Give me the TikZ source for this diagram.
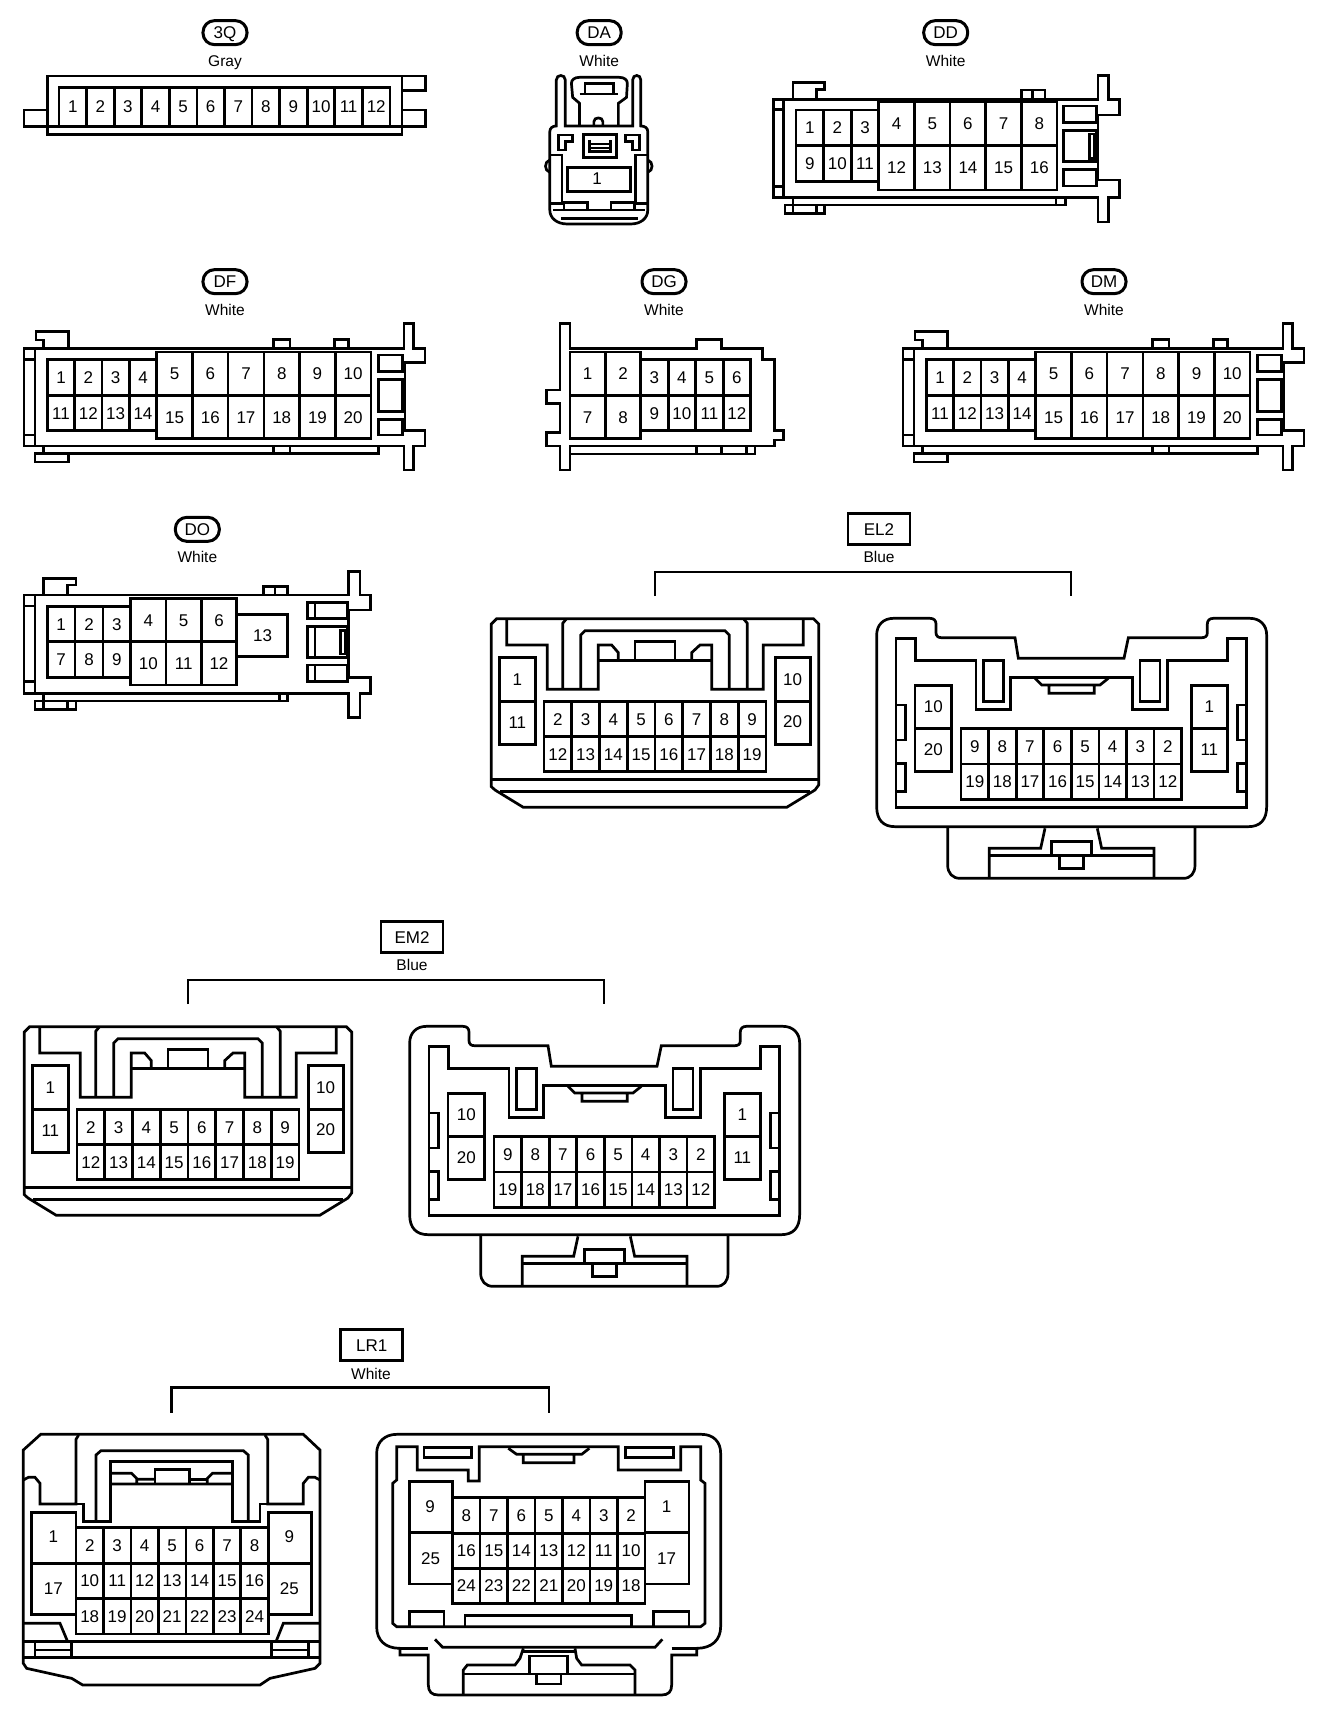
\documentclass[tikz,border=0pt]{standalone}
\usepackage{fontspec}
\setmainfont{Liberation Sans}
\tikzset{
  x=1pt,y=-1pt,
  ln/.style={line width=2.7pt,line join=miter,line cap=butt},
  zoomed/.style 2 args={shift={(#1,#2)},x=0.33333pt,y=-0.33333pt},
  zoomedwide/.style={shift={(#1,0)},x=0.40816pt,y=-0.33333pt},
  pinlabel/.style={inner sep=0pt,font=\fontsize{17}{17}\selectfont,text height=12pt,text depth=0pt},
  pill/.style={draw,yshift=-1pt,line width=3pt,rounded corners=11.5pt,minimum width=44pt,minimum height=24pt,inner sep=0pt,font=\fontsize{17}{17}\selectfont,text height=12pt,text depth=0pt},
  squarebox/.style={draw,line width=2.7pt,minimum width=62pt,minimum height=31pt,inner sep=0pt,font=\fontsize{17}{17}\selectfont,text height=12pt,text depth=0pt},
  colourtext/.style={yshift=-0.7pt,inner sep=0pt,font=\fontsize{15.5}{16}\selectfont,text height=11.5pt,text depth=0pt},
}
% prefix, x0, dx, y0, y1, labels
\newcommand{\cellrow}[6]{%
  \foreach \t [count=\i from 0] in {#6}{%
    \pgfmathsetmacro\xa{#2+\i*#3}%
    \pgfmathsetmacro\xb{\xa+#3}%
    \pgfmathsetmacro\xc{(\xa+\xb)/2}%
    \pgfmathsetmacro\yc{(#4+#5)/2}%
    \draw[ln] (\xa,#4) rectangle (\xb,#5);
    \node[pinlabel] (#1-\t) at (\xc,\yc) {\t};
  }}
% name, text, x, y(text), colour, ycolour
\newcommand{\pilltag}[6]{%
  \node[pill] (#1) at (#3,#4) {#2};
  \node[colourtext] (#1c) at (#3,#6) {#5};}
% DF / DM body
\newcommand{\dfbody}[2]{%
\begin{scope}[zoomed={#2}{260}]
  \pilltag{#1}{#1}{675}{62}{White}{148}
  \draw[ln] (1212,265) -- (72,265) -- (72,558) -- (1212,558) -- (1212,630) -- (1240,630) -- (1240,558) -- (1275,558) -- (1275,512) -- (1215,512) -- (1215,308) -- (1275,308) -- (1275,265) -- (1240,265) -- (1240,190) -- (1212,190) -- cycle;
  \draw[ln] (105,265) -- (105,558) (72,298) -- (105,298) (72,525) -- (105,525);
  \draw[ln] (130,265) -- (130,240) -- (108,240) -- (108,215) -- (205,215) -- (205,265);
  \draw[ln] (820,265) -- (820,238) -- (870,238) -- (870,265) (1003,265) -- (1003,238) -- (1045,238) -- (1045,265);
  \draw[ln] (130,558) -- (130,580) -- (105,580) -- (105,606) -- (205,606) -- (205,580);
  \draw[ln] (130,580) -- (1135,580) -- (1135,558) (820,558) -- (820,580) (870,558) -- (870,580);
  \draw[ln] (1135,285) rectangle (1208,335) (1135,358) rectangle (1208,455) (1135,478) rectangle (1208,525);
  \cellrow{#1}{142}{82}{298}{407}{1,2,3,4}
  \cellrow{#1}{142}{82}{407}{512}{11,12,13,14}
  \cellrow{#1}{470}{107.2}{276}{407}{5,6,7,8,9,10}
  \cellrow{#1}{470}{107.2}{407}{535}{15,16,17,18,19,20}
\end{scope}}
% EL2 / EM2 pair
\newcommand{\elpair}[4]{% name, colour, dx, dy
\begin{scope}[shift={(#3,#4)}]
  \node[squarebox] (#1) at (879,529) {#1};
  \node[colourtext] (#1c) at (879,556) {#2};
  \coordinate (#1L) at (655,596);
  \coordinate (#1R) at (1071,596);
  \draw[ln] (#1L) -- ++(0,-24) -| (#1R);
\end{scope}
\begin{scope}[zoomed={470+#3}{500+#4}]
  \draw[ln] (80,356) -- (1030,356) -- (1046,372) -- (1046,855) -- (1035,870) -- (950,922) -- (160,922) -- (75,870) -- (64,860) -- (64,372) -- cycle;
  \draw[ln] (64,838) -- (1046,838) (90,875) -- (1020,875);
  \draw[ln] (110,360) -- (110,435) -- (232,435) -- (232,568) -- (385,568) -- (385,435) -- (425,435) -- (445,458) -- (445,482);
  \draw[ln] (385,482) -- (722,482) (495,482) -- (495,425) -- (615,425) -- (615,482);
  \draw[ln] (665,482) -- (665,458) -- (690,435) -- (725,435) -- (725,568) -- (880,568) -- (880,435) -- (1000,435) -- (1000,360);
  \draw[ln] (278,568) -- (278,370) -- (288,358) (832,568) -- (832,370) -- (822,358);
  \draw[ln] (332,568) -- (332,405) -- (345,392) -- (765,392) -- (778,405) -- (778,568);
  \draw[ln] (88,472) rectangle (197,733) (88,605) -- (197,605);
  \draw[ln] (917,472) rectangle (1022,733) (917,605) -- (1022,605);
  \node[pinlabel] (#1a-1) at (142,538) {1};
  \node[pinlabel] (#1a-11) at (142,668) {11};
  \node[pinlabel] (#1a-10) at (968,538) {10};
  \node[pinlabel] (#1a-20) at (968,665) {20};
  \cellrow{#1a}{222}{83.25}{605}{710}{2,3,4,5,6,7,8,9}
  \cellrow{#1a}{222}{83.25}{710}{815}{12,13,14,15,16,17,18,19}
\end{scope}
\begin{scope}[zoomed={850+#3}{590+#4}]
  \draw[ln] (80,650) .. controls (80,690) and (100,710) .. (135,710) -- (1195,710) .. controls (1230,710) and (1250,690) .. (1250,650) -- (1250,135) .. controls (1250,105) and (1230,85) .. (1200,85) -- (1090,85) .. controls (1078,85) and (1072,92) .. (1072,102) -- (1072,128) .. controls (1072,138) and (1066,143) .. (1056,143) -- (835,143) -- (822,205) -- (505,205) -- (495,143) -- (274,143) .. controls (264,143) and (258,138) .. (258,128) -- (258,102) .. controls (258,92) and (252,85) .. (240,85) -- (130,85) .. controls (100,85) and (80,105) .. (80,135) -- cycle;
  \draw[ln] (138,145) -- (197,145) -- (197,212) -- (378,212) -- (378,358) -- (482,358) -- (482,262) -- (848,262) -- (848,358) -- (952,358) -- (952,212) -- (1133,212) -- (1133,145) -- (1190,145) -- (1190,652) -- (138,652) -- cycle;
  \draw[ln] (400,212) rectangle (460,335) (870,212) rectangle (930,335);
  \draw[ln] (555,265) -- (575,285) -- (750,285) -- (775,265) (597,285) -- (597,310) -- (733,310) -- (733,285);
  \draw[ln] (138,345) -- (167,345) -- (167,450) -- (138,450) (138,520) -- (167,520) -- (167,605) -- (138,605);
  \draw[ln] (1190,345) -- (1162,345) -- (1162,450) -- (1190,450) (1190,520) -- (1162,520) -- (1162,605) -- (1190,605);
  \draw[ln] (195,287) rectangle (305,545) (195,415) -- (305,415);
  \draw[ln] (1025,287) rectangle (1133,545) (1025,415) -- (1133,415);
  \node[pinlabel] (#1b-10) at (250,348) {10};
  \node[pinlabel] (#1b-20) at (250,478) {20};
  \node[pinlabel] (#1b-1) at (1078,348) {1};
  \node[pinlabel] (#1b-11) at (1078,478) {11};
  \cellrow{#1b}{333}{82.75}{415}{522}{9,8,7,6,5,4,3,2}
  \cellrow{#1b}{333}{82.75}{522}{628}{19,18,17,16,15,14,13,12}
  \draw[ln] (293,710) -- (293,825) .. controls (293,850) and (308,865) .. (330,865) -- (1000,865) .. controls (1022,865) and (1035,850) .. (1035,825) -- (1035,710);
  \draw[ln] (418,865) -- (418,775) -- (572,775) -- (585,715) (912,865) -- (912,775) -- (755,775) -- (742,715);
  \draw[ln] (418,797) -- (912,797);
  \draw[ln] (605,797) -- (605,755) -- (725,755) -- (725,797) (628,797) -- (628,835) -- (700,835) -- (700,797);
\end{scope}}
\begin{document}
\begin{tikzpicture}[x=1pt,y=-1pt]
\useasboundingbox (0,0) rectangle (1328,1726);
\fill[white] (0,0) rectangle (1328,1726);

% 3Q
\begin{scope}[zoomed={0}{0}]
  \pilltag{3Q}{3Q}{675}{95}{Gray}{180}
  \draw[ln] (142,228) rectangle (1206,403);
  \draw[ln] (142,330) -- (72,330) -- (72,380) -- (1276,380) -- (1276,330) -- (1206,330);
  \draw[ln] (1206,228) -- (1276,228) -- (1276,272) -- (1206,272);
  \cellrow{3Q}{177}{82.75}{262}{380}{1,2,3,4,5,6,7,8,9,10,11,12}
\end{scope}

% DA
\begin{scope}[zoomedwide=500]
  \pilltag{DA}{DA}{243}{95}{White}{180}
  \draw[ln] (122,630) -- (122,395) .. controls (122,385) and (128,378) .. (138,378) -- (138,240) .. controls (138,222) and (160,222) .. (160,240) -- (160,378) -- (325,378) -- (325,240) .. controls (325,222) and (345,222) .. (345,240) -- (345,378) .. controls (356,378) and (362,385) .. (362,395) -- (362,630) .. controls (362,655) and (345,672) .. (320,672) -- (165,672) .. controls (140,672) and (122,655) .. (122,630) -- cycle;
  \draw[ln] (195,378) -- (195,310) -- (178,292) -- (175,250) .. controls (175,240) and (182,232) .. (195,232) -- (292,232) .. controls (305,232) and (312,240) .. (312,250) -- (310,292) -- (290,310) -- (290,378);
  \draw[ln] (208,280) -- (208,250) -- (278,250) -- (278,280);
  \draw[ln] (195,282) -- (290,282);
  \draw[ln] (230,378) -- (230,365) .. controls (230,350) and (252,350) .. (252,365) -- (252,378);
  \draw[ln] (205,403) rectangle (285,472);
  \draw[ln] (220,420) -- (220,455) -- (270,455) -- (270,420) (220,432) -- (270,432) (220,444) -- (270,444);
  \draw[ln] (143,405) -- (178,405) -- (178,425) -- (160,425) -- (160,450) -- (143,450) -- cycle;
  \draw[ln] (342,405) -- (307,405) -- (307,425) -- (325,425) -- (325,450) -- (342,450) -- cycle;
  \draw[ln] (122,465) -- (152,465) -- (152,610) -- (122,610);
  \draw[ln] (362,465) -- (332,465) -- (332,610) -- (362,610);
  \draw[ln] (122,480) .. controls (108,485) and (108,512) .. (122,517);
  \draw[ln] (362,480) .. controls (376,485) and (376,512) .. (362,517);
  \draw[ln] (157,630) -- (157,607) -- (215,607) -- (215,630) (272,630) -- (272,607) -- (330,607) -- (330,630);
  \draw[ln] (130,630) -- (355,630) (150,655) -- (338,655);
  \draw[ln] (165,502) rectangle (320,575);
  \node[pinlabel] (DA-1) at (238,537) {1};
\end{scope}

% DD
\begin{scope}[zoomedwide=500]
  \pilltag{DD}{DD}{1092}{95}{White}{180}
  \draw[ln] (1465,298) -- (670,298) -- (670,592) -- (1465,592) -- (1465,666) -- (1490,666) -- (1490,592) -- (1518,592) -- (1518,540) -- (1465,540) -- (1465,345) -- (1518,345) -- (1518,298) -- (1490,298) -- (1490,226) -- (1465,226) -- cycle;
  \draw[ln] (695,298) -- (695,592) (670,328) -- (695,328) (670,560) -- (695,560);
  \draw[ln] (718,298) -- (718,248) -- (795,248) -- (795,268) -- (775,268) -- (775,298);
  \draw[ln] (1278,298) -- (1278,270) -- (1335,270) -- (1335,298) (1305,270) -- (1305,298);
  \draw[ln] (718,592) -- (718,640) (698,615) -- (795,615) -- (795,640) -- (698,640) -- cycle (775,615) -- (775,640);
  \draw[ln] (795,615) -- (1385,615) -- (1385,592) (1362,592) -- (1362,615);
  \draw[ln] (1380,318) rectangle (1462,368) (1380,392) rectangle (1462,485) (1380,508) rectangle (1462,558);
  \draw[ln] (1444,402) rectangle (1457,475);
  \cellrow{DD}{725}{67.7}{330}{437}{1,2,3}
  \cellrow{DD}{725}{67.7}{437}{545}{9,10,11}
  \cellrow{DD}{928}{87.4}{305}{437}{4,5,6,7,8}
  \cellrow{DD}{928}{87.4}{437}{570}{12,13,14,15,16}
\end{scope}

\dfbody{DF}{0}
\dfbody{DM}{879}

% DG
\begin{scope}[zoomed={520}{260}]
  \pilltag{DG}{DG}{432}{62}{White}{148}
  \draw[ln] (120,190) -- (120,390) -- (80,390) -- (80,430) -- (120,430) -- (120,518) -- (80,518) -- (80,558) -- (120,558) -- (120,630) -- (150,630) -- (150,558) -- (763,558) -- (763,540) -- (790,540) -- (790,512) -- (763,512) -- (763,298) -- (728,298) -- (728,265) -- (605,265) -- (605,238) -- (530,238) -- (530,265) -- (150,265) -- (150,190) -- cycle;
  \draw[ln] (150,582) -- (705,582) -- (705,558) (530,558) -- (530,582) (605,558) -- (605,582) (680,558) -- (680,582);
  \cellrow{DG}{150}{106}{276}{407}{1,2}
  \cellrow{DG}{150}{106}{407}{535}{7,8}
  \cellrow{DG}{362}{82.5}{298}{407}{3,4,5,6}
  \cellrow{DG}{362}{82.5}{407}{512}{9,10,11,12}
\end{scope}

% DO
\begin{scope}[zoomed={0}{500}]
  \pilltag{DO}{DO}{592}{85}{White}{168}
  \draw[ln] (1045,285) -- (72,285) -- (72,580) -- (1045,580) -- (1045,652) -- (1080,652) -- (1080,580) -- (1112,580) -- (1112,532) -- (1045,532) -- (1045,330) -- (1112,330) -- (1112,285) -- (1080,285) -- (1080,215) -- (1045,215) -- cycle;
  \draw[ln] (105,285) -- (105,580) (72,318) -- (105,318) (72,545) -- (105,545);
  \draw[ln] (130,285) -- (130,235) -- (228,235) -- (228,255) -- (203,255) -- (203,285);
  \draw[ln] (790,285) -- (790,260) -- (862,260) -- (862,285) (825,260) -- (825,285);
  \draw[ln] (130,580) -- (130,628) (105,603) -- (228,603) -- (228,628) -- (105,628) -- cycle (203,603) -- (203,628);
  \draw[ln] (228,603) -- (862,603) -- (862,580) (838,580) -- (838,603);
  \draw[ln] (922,308) rectangle (1042,355) (945,308) -- (945,355);
  \draw[ln] (922,380) rectangle (1042,472) (945,380) -- (945,472);
  \draw[ln] (922,495) rectangle (1042,545) (945,495) -- (945,545);
  \draw[ln] (1022,392) rectangle (1035,462);
  \draw[ln] (710,343) rectangle (862,470);
  \node[pinlabel] (DO-13) at (788,405) {13};
  \cellrow{DO}{142}{83.3}{320}{425}{1,2,3}
  \cellrow{DO}{142}{83.3}{425}{532}{7,8,9}
  \cellrow{DO}{392}{106}{296}{425}{4,5,6}
  \cellrow{DO}{392}{106}{425}{555}{10,11,12}
\end{scope}

\elpair{EL2}{Blue}{0}{0}
\elpair{EM2}{Blue}{-467}{408}

% LR1 label and bracket
\node[squarebox] (LR1) at (371.7,1345) {LR1};
\node[colourtext] (LR1c) at (371,1373) {White};
\coordinate (LR1L) at (171.7,1412.7);
\coordinate (LR1R) at (549,1412.7);
\draw[ln] (LR1L) -- ++(0,-25) -| (LR1R);

% LR1 left
\begin{scope}[zoomed={0}{1320}]
  \draw[ln] (122,343) -- (910,343) -- (960,390) -- (960,1030) -- (945,1045) -- (810,1075) -- (780,1095) -- (248,1095) -- (215,1075) -- (80,1045) -- (70,1030) -- (70,390) -- cycle;
  \draw[ln] (70,1012) -- (960,1012) (70,965) -- (960,965);
  \draw[ln] (70,480) -- (85,472) -- (105,472) -- (120,490) -- (120,552) -- (228,552) -- (228,358) -- (236,345);
  \draw[ln] (960,480) -- (945,472) -- (925,472) -- (910,490) -- (910,552) -- (803,552) -- (803,358) -- (795,345);
  \draw[ln] (228,552) -- (250,552) -- (250,605) -- (332,605) -- (332,425) -- (698,425) -- (698,605) -- (780,605) -- (780,552) -- (803,552);
  \draw[ln] (288,605) -- (288,405) -- (303,392) -- (730,392) -- (745,405) -- (745,605);
  \draw[ln] (332,460) -- (395,460) -- (410,475) -- (410,492) (332,492) -- (698,492) (410,478) -- (465,478);
  \draw[ln] (465,492) -- (465,448) -- (568,448) -- (568,492) (568,478) -- (622,478);
  \draw[ln] (622,492) -- (622,475) -- (637,460) -- (698,460);
  \draw[ln] (95,578) rectangle (228,884) (95,730) -- (228,730);
  \draw[ln] (805,578) rectangle (935,884) (805,730) -- (935,730);
  \node[pinlabel] (LR1a-1) at (160,650) {1};
  \node[pinlabel] (LR1a-17) at (160,805) {17};
  \node[pinlabel] (LR1a-9) at (868,650) {9};
  \node[pinlabel] (LR1a-25) at (868,805) {25};
  \cellrow{LR1a}{228}{82.4}{622}{730}{2,3,4,5,6,7,8}
  \cellrow{LR1a}{228}{82.4}{730}{835}{10,11,12,13,14,15,16}
  \cellrow{LR1a}{228}{82.4}{835}{942}{18,19,20,21,22,23,24}
  \draw[ln] (70,910) -- (180,910) -- (203,965) (960,910) -- (850,910) -- (828,965);
  \draw[ln] (105,965) -- (105,1012) (215,965) -- (215,1012) (105,990) -- (215,990);
  \draw[ln] (815,965) -- (815,1012) (925,965) -- (925,1012) (815,990) -- (925,990);
\end{scope}

% LR1 right
\begin{scope}[zoomed={360}{1320}]
  \draw[ln] (50,400) .. controls (50,365) and (75,343) .. (110,343) -- (1025,343) .. controls (1060,343) and (1082,365) .. (1082,400) -- (1082,920) .. controls (1082,960) and (1055,985) .. (1010,985) -- (1010,1005) -- (935,1005) -- (935,1095) .. controls (935,1115) and (925,1125) .. (905,1125) -- (235,1125) .. controls (215,1125) and (205,1115) .. (205,1095) -- (205,1005) -- (120,1005) -- (120,985) .. controls (75,985) and (50,960) .. (50,920) -- cycle;
  \draw[ln] (120,985) -- (205,985) (935,985) -- (1010,985);
  \draw[ln] (225,958) -- (248,982) -- (885,982) -- (907,958);
  \draw[ln] (110,920) -- (98,910) -- (98,490) -- (110,480) -- (110,380) -- (172,380) -- (172,450) -- (325,450) -- (325,483) -- (358,483) -- (358,380) -- (775,380) -- (775,450) -- (962,450) -- (962,380) -- (1022,380) -- (1022,480) -- (1035,490) -- (1035,910) -- (1022,920) -- cycle;
  \draw[ln] (192,382) rectangle (335,412) (797,382) rectangle (940,412);
  \draw[ln] (445,385) -- (470,403) -- (665,403) -- (688,385) (490,403) -- (490,428) -- (642,428) -- (642,403);
  \draw[ln] (148,485) rectangle (278,792) (148,638) -- (278,638);
  \draw[ln] (855,485) rectangle (987,792) (855,638) -- (987,638);
  \node[pinlabel] (LR1b-9) at (210,560) {9};
  \node[pinlabel] (LR1b-25) at (212,715) {25};
  \node[pinlabel] (LR1b-1) at (920,560) {1};
  \node[pinlabel] (LR1b-17) at (920,715) {17};
  \cellrow{LR1b}{278}{82.4}{532}{640}{8,7,6,5,4,3,2}
  \cellrow{LR1b}{278}{82.4}{640}{745}{16,15,14,13,12,11,10}
  \cellrow{LR1b}{278}{82.4}{745}{850}{24,23,22,21,20,19,18}
  \draw[ln] (148,920) -- (148,875) -- (252,875) -- (252,920) (880,920) -- (880,875) -- (987,875) -- (987,920) (315,920) -- (315,887) -- (815,887) -- (815,920);
  \draw[ln] (310,1125) -- (310,1050) -- (322,1035) -- (465,1035) -- (480,1015) -- (490,985);
  \draw[ln] (825,1125) -- (825,1050) -- (810,1035) -- (665,1035) -- (650,1015) -- (645,985);
  \draw[ln] (310,1062) -- (825,1062);
  \draw[ln] (508,1062) -- (508,1008) -- (622,1008) -- (622,1062) (530,1062) -- (530,1092) -- (603,1092) -- (603,1062);
  \draw[ln] (490,995) -- (645,995);
\end{scope}
\end{tikzpicture}
\end{document}
